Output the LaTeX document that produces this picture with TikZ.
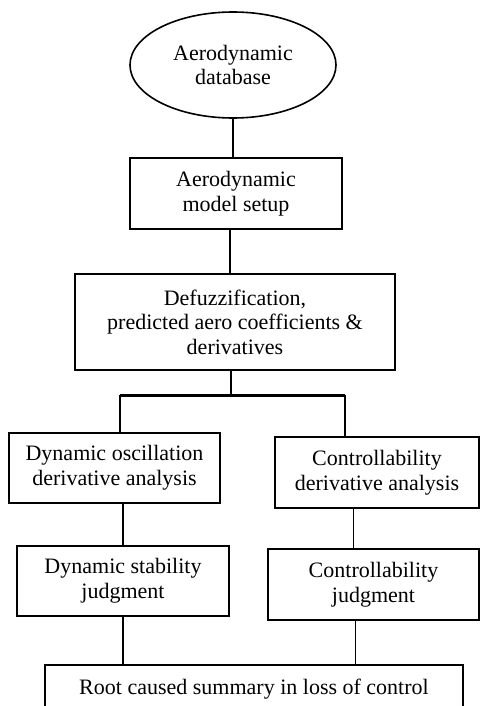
\documentclass[tikz,border=0pt]{standalone}
\usepackage{fontspec}
\setmainfont{Liberation Serif}
\usepackage{tikz}
\usetikzlibrary{shapes.geometric,positioning}
\tikzset{
  fcbox/.style={draw=black, thick, rectangle, align=center, inner sep=2pt},
  fcell/.style={draw=black, thick, ellipse, align=center, inner sep=1pt},
  fcline/.style={draw=black, thick},
  fcbar/.style={draw=black, line width=1.5pt}
}

\begin{document}
\begin{tikzpicture}[font=\fontsize{11}{12.3}\selectfont, x=.5pt, y=-.5pt]
  \useasboundingbox (0,0) rectangle (481,706);
  \clip (0,0) rectangle (481,706);
  \node[fcell, minimum width=103pt, minimum height=53pt] (db) at (233,65) {Aerodynamic\\database};
  \node[fcbox, minimum width=106pt, minimum height=35.5pt] (setup) at (236,193.5) {Aerodynamic\\model setup};
  \node[fcbox, minimum width=160pt, minimum height=48pt] (defuzz) at (235,322) {Defuzzification,\\predicted aero coefficients \&\\derivatives};
  \node[fcbox, minimum width=105.5pt, minimum height=35pt] (oscil) at (114.5,468) {Dynamic oscillation\\derivative analysis};
  \node[fcbox, minimum width=102pt, minimum height=35.5pt] (ctrlder) at (377,472.5) {Controllability\\derivative analysis};
  \node[fcbox, minimum width=106pt, minimum height=35pt] (dynstab) at (123,581) {Dynamic stability\\judgment};
  \node[fcbox, minimum width=105.5pt, minimum height=35.5pt] (ctrljud) at (373.5,584.5) {Controllability\\judgment};
  \node[fcbox, anchor=north, minimum width=209pt, inner ysep=7pt, text height=8pt, text depth=30pt] (root) at (254,664) {Root caused summary in loss of control};
  \coordinate (barL) at (120,395);
  \coordinate (barR) at (345,395);
  % links
  \draw[fcline] (db.south) -- (db.south |- setup.north);
  \draw[fcline] ([xshift=-3pt]setup.south) -- ([xshift=-3pt]setup.south |- defuzz.north);
  \draw[fcline] ([xshift=-2pt]defuzz.south) -- ([xshift=-2pt]defuzz.south |- barL);
  \draw[fcbar] (barL) -- (barR);
  \draw[fcline] (barL) -- (barL |- oscil.north);
  \draw[fcline] (barR) -- (barR |- ctrlder.north);
  \draw[fcline] (dynstab.north) -- (dynstab.north |- oscil.south);
  \draw[fcline] ([xshift=-10pt]ctrljud.north) -- ([xshift=-10pt]ctrljud.north |- ctrlder.south);
  \draw[fcline] (dynstab.south) -- (dynstab.south |- root.north);
  \draw[fcline] ([xshift=-9pt]ctrljud.south) -- ([xshift=-9pt]ctrljud.south |- root.north);
\end{tikzpicture}
\end{document}
